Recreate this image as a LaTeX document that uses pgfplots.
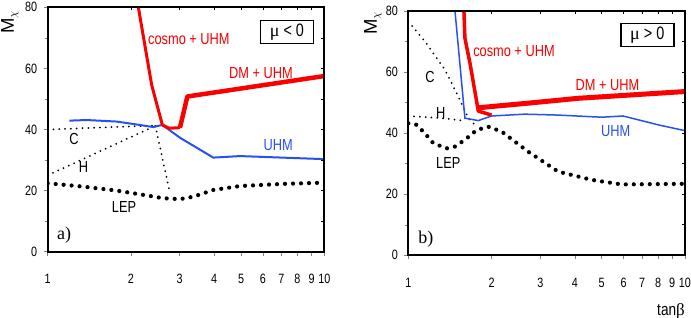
\documentclass[border=0pt]{standalone}
\usepackage{pgfplots}
\pgfplotsset{compat=1.18}
\usepackage{fontspec}
\setmainfont{Liberation Sans}[FakeStretch=0.8]
\newfontfamily\serif{Liberation Serif}
\newfontfamily\plainsans{Liberation Sans}
\definecolor{myblue}{RGB}{40,80,240}
\definecolor{myred}{RGB}{250,0,0}
\pgfplotsset{
  mybase/.style={scale only axis, width=276.6bp, height=244.4bp,
    xmin=1, xmax=10, ymin=0, ymax=80, anchor=south west},
  mymain/.style={mybase, axis line style={line width=2bp},
    xtick={1,2,3,4,5,6,7,8,9,10}, xticklabels={1,2,3,4,5,6,7,8,9,10},
    minor xtick={},
    ytick={0,20,40,60,80}, yticklabels={0,20,40,60,80},
    minor ytick={10,30,50,70},
    tick align=outside, xtick pos=left, ytick pos=left,
    major tick length=4bp, minor tick length=3bp,
    tick style={gray, line width=0.5bp},
    ticklabel style={font=\fontsize{13.5bp}{15bp}\selectfont},
    xticklabel style={yshift=-15bp},
    yticklabel style={xshift=-3bp},
    axis on top},
  myover/.style={mybase, axis line style={draw=none},
    xtick={2,3,4,5,6,7,8,9}, xticklabels={}, minor xtick={},
    ytick={10,20,30,40,50,60,70}, yticklabels={},
    tick align=inside, xtick pos=right, ytick pos=right,
    major tick length=3bp, tick style={black, line width=0.5bp}},
}
\tikzset{
  smalldot/.style={black, line width=2bp, line cap=round, dash pattern=on 0bp off 5.8bp},
  bigdot/.style={black, line width=4.2bp, line cap=round, dash pattern=on 0bp off 8bp},
  lab/.style={font=\fontsize{16bp}{18bp}\selectfont},
  mubox/.style={draw, fill=white, line width=1.5bp, minimum width=53bp, minimum height=22.6bp, inner sep=1bp, font=\fontsize{18bp}{20bp}\selectfont},
}
\begin{document}
\begin{tikzpicture}
\useasboundingbox (0bp,0bp) rectangle (691bp,318bp);
% ---------------- left panel ----------------
\begin{semilogxaxis}[mymain, at={(47.7bp,66.3bp)}]
\addplot[bigdot] coordinates {(1,22.4) (1.346,21.3) (1.776,20.0) (2.218,18.6) (2.618,17.5) (3.008,17.2) (3.36,18.0) (3.97,20.2) (4.96,21.5) (7.11,22.2) (10,22.6)};
\addplot[smalldot] coordinates {(1,40.0) (2.45,41.3)};
\addplot[smalldot] coordinates {(1,25.0) (2.45,41.2)};
\addplot[smalldot] coordinates {(2.45,41.2) (2.77,19.0)};
\addplot[myblue, line width=2bp] coordinates {(1.197,42.9) (1.383,43.1) (1.776,42.6) (2.04,41.8) (2.41,40.8) (2.597,41.5) (3.008,37.3) (3.97,30.8) (4.96,31.3) (10,30.3)};
\addplot[myred, line width=3bp, line join=round] coordinates {(2.127,80) (2.376,54.6) (2.597,41.5) (2.745,40.4) (3.008,40.6)};
\addplot[myred, line width=4.5bp, line join=round] coordinates {(3.008,40.6) (3.198,50.8) (10,57.5)};
\node[lab, myred] at (axis cs:3.24,69.5) {cosmo + UHM};
\node[lab, myred] at (axis cs:5.9,58.6) {DM + UHM};
\node[lab, myblue] at (axis cs:6.82,34.9) {UHM};
\node[lab] at (axis cs:1.245,36.8) {C};
\node[lab] at (axis cs:1.346,27.8) {H};
\node[lab] at (axis cs:1.888,14.7) {LEP};
\node[font=\serif\fontsize{18bp}{20bp}\selectfont] at (axis cs:1.146,5.5) {a)};
\node[mubox] at (axis cs:7.33,71.9) {{\serif μ} < 0};
\end{semilogxaxis}
\begin{semilogxaxis}[myover, at={(47.7bp,66.3bp)}]
\addplot[draw=none] coordinates {(1,0) (10,80)};
\end{semilogxaxis}
% ---------------- right panel ----------------
\begin{semilogxaxis}[mymain, at={(408.3bp,62.7bp)}]
\addplot[bigdot] coordinates {(1,43.2) (1.072,42.7) (1.149,39.9) (1.231,36.7) (1.376,35.0) (1.475,35.6) (1.602,37.8) (1.766,41.0) (1.946,42.1) (2.175,40.5) (2.715,33.9) (3.48,27.4) (4.6,24.7) (5.9,23.2) (10,23.4)};
\addplot[smalldot] coordinates {(1,76.5) (1.149,70.0) (1.357,60.7) (1.516,52.0) (1.648,44.9) (1.766,42.1)};
\addplot[smalldot] coordinates {(1,45.6) (1.32,44.9) (1.576,44.1)};
\addplot[myblue, line width=1.5bp] coordinates {(1.475,80) (1.602,44.9) (1.791,44.1) (2.0,45.6) (2.64,46.2) (3.48,45.9) (5.0,45.2) (5.98,45.6) (8.01,42.7) (10,40.8)};
\addplot[myred, line width=3.5bp, line join=round] coordinates {(1.589,80) (1.602,71.1) (1.671,62.9) (1.791,47.2) (2.0,45.9)};
\addplot[myred, line width=5bp, line join=round] coordinates {(1.791,48.3) (2.715,49.8) (4.12,51.4) (10,53.6)};
\node[lab, myred] at (axis cs:2.41,66.7) {cosmo + UHM};
\node[lab, myred] at (axis cs:5.25,55.8) {DM + UHM};
\node[lab, myblue] at (axis cs:5.62,40.8) {UHM};
\node[lab] at (axis cs:1.197,58.5) {C};
\node[lab] at (axis cs:1.309,46.5) {H};
\node[lab] at (axis cs:1.395,30.1) {LEP};
\node[font=\serif\fontsize{18bp}{20bp}\selectfont] at (axis cs:1.158,5.2) {b)};
\node[mubox] at (axis cs:7.31,72.1) {{\serif μ} > 0};
\end{semilogxaxis}
\begin{semilogxaxis}[myover, at={(408.3bp,62.7bp)}]
\addplot[draw=none] coordinates {(1,0) (10,80)};
\end{semilogxaxis}
% axis titles
\node[rotate=90, font=\plainsans\fontsize{18.5bp}{20bp}\selectfont] at (10bp,296bp) {M$_\chi$};
\node[rotate=90, font=\plainsans\fontsize{18.5bp}{20bp}\selectfont] at (373bp,295bp) {M$_\chi$};
\node[font=\fontsize{17bp}{19bp}\selectfont] at (671bp,7bp) {tan{\serif β}};
\end{tikzpicture}
\end{document}
